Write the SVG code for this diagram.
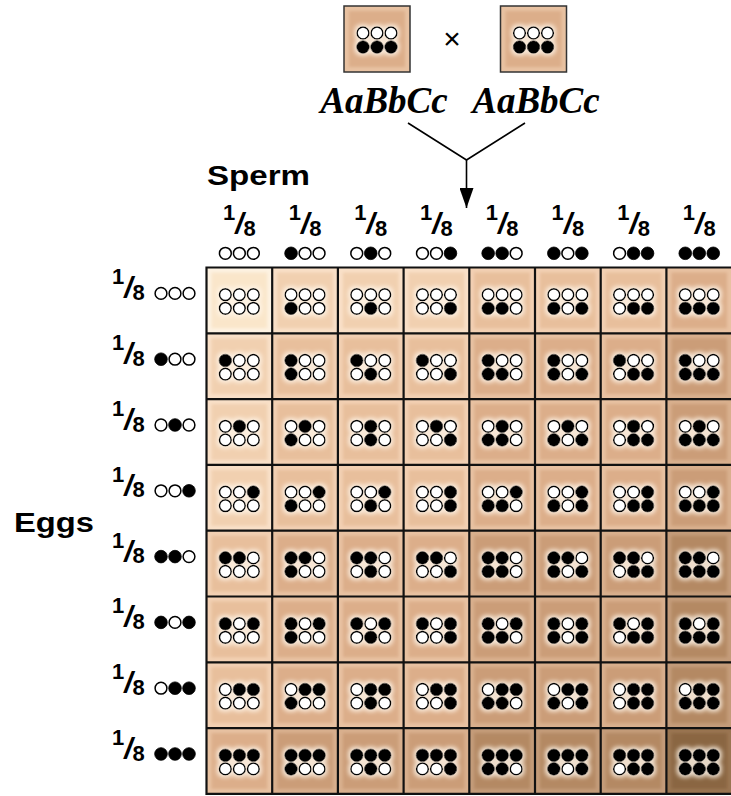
<svg xmlns="http://www.w3.org/2000/svg" xmlns:xlink="http://www.w3.org/1999/xlink" width="731" height="796" viewBox="0 0 731 796">
<style>
.w{fill:#fff;stroke:#000;stroke-width:1.5}
.k{fill:#000;stroke:#000;stroke-width:0.8}
.grid{fill:none;stroke:#111;stroke-width:2.2}
.lab{font-family:"Liberation Sans",Arial,sans-serif;font-weight:bold;fill:#000}
.fr{font-family:"Liberation Sans",Arial,sans-serif;font-weight:bold;fill:#000}
.par{font-family:"Liberation Serif","Times New Roman",serif;font-weight:bold;font-style:italic;font-size:37px;fill:#000}
.i{filter:url(#soft)}
.d{filter:url(#halo)}
.conn{fill:none;stroke:#000;stroke-width:1.6}
.o0{fill:#fdf2e2}.i0{fill:#fae6ca}
.o1{fill:#f9e0c8}.i1{fill:#f1d0b0}
.o2{fill:#f2d0b3}.i2{fill:#e8bf9c}
.o3{fill:#e8c2a2}.i3{fill:#dcae8a}
.o4{fill:#d9b08e}.i4{fill:#cb9d78}
.o5{fill:#c49c7a}.i5{fill:#b48964}
.o6{fill:#9a7552}.i6{fill:#8a6642}
</style>
<defs>
<filter id="soft" x="-10%" y="-10%" width="120%" height="120%"><feGaussianBlur stdDeviation="1.6"/></filter>
<filter id="halo" x="-40%" y="-60%" width="180%" height="220%">
<feMorphology in="SourceAlpha" operator="dilate" radius="1.5" result="d"/>
<feGaussianBlur in="d" stdDeviation="2" result="b"/>
<feFlood flood-color="#fff6ea" flood-opacity="0.8"/>
<feComposite in2="b" operator="in" result="g"/>
<feMerge><feMergeNode in="g"/><feMergeNode in="SourceGraphic"/></feMerge>
</filter>
<circle id="w" r="5.9" class="w"/>
<circle id="k" r="6.3" class="k"/>
<g id="g0"><use href="#w" x="-14"/><use href="#w"/><use href="#w" x="14"/></g>
<g id="g1"><use href="#k" x="-14"/><use href="#w"/><use href="#w" x="14"/></g>
<g id="g2"><use href="#w" x="-14"/><use href="#k"/><use href="#w" x="14"/></g>
<g id="g3"><use href="#w" x="-14"/><use href="#w"/><use href="#k" x="14"/></g>
<g id="g4"><use href="#k" x="-14"/><use href="#k"/><use href="#w" x="14"/></g>
<g id="g5"><use href="#k" x="-14"/><use href="#w"/><use href="#k" x="14"/></g>
<g id="g6"><use href="#w" x="-14"/><use href="#k"/><use href="#k" x="14"/></g>
<g id="g7"><use href="#k" x="-14"/><use href="#k"/><use href="#k" x="14"/></g>
<marker id="ah" viewBox="0 0 20 14" refX="20" refY="7" markerWidth="20" markerHeight="14" markerUnits="userSpaceOnUse" orient="auto"><path d="M0,0 L20,7 L0,14 Z" fill="#000"/></marker>
</defs>
<rect width="731" height="796" fill="#fff"/>

<!-- parents -->
<g id="parent-left" transform="translate(344,6)"><rect class="o3" width="66" height="66" stroke="#333" stroke-width="1.5"/><rect class="i i3" x="5" y="5" width="56" height="56"/><g class="d"><use href="#g0" x="33" y="27"/><use href="#g7" x="33" y="41"/></g></g>
<g id="parent-right" transform="translate(500.5,6)"><rect class="o3" width="66" height="66" stroke="#333" stroke-width="1.5"/><rect class="i i3" x="5" y="5" width="56" height="56"/><g class="d"><use href="#g0" x="33" y="27"/><use href="#g7" x="33" y="41"/></g></g>
<text x="452" y="49" font-family="Liberation Sans, Arial, sans-serif" font-size="30" text-anchor="middle" fill="#000">×</text>
<text class="par" x="384" y="113" text-anchor="middle">AaBbCc</text>
<text class="par" x="536" y="113" text-anchor="middle">AaBbCc</text>

<g id="connectors">
<path class="conn" d="M408,123 L466.5,160 L525,123"/>
<path class="conn" d="M466.5,160 L466.5,208" marker-end="url(#ah)"/>
</g>

<text class="lab" x="207" y="185" font-size="28" textLength="103" lengthAdjust="spacingAndGlyphs">Sperm</text>
<text class="lab" x="14" y="532" font-size="28" textLength="80" lengthAdjust="spacingAndGlyphs">Eggs</text>

<!-- sperm header -->
<g id="sperm-labels">
<text class="fr" x="239.35" y="220" text-anchor="middle"><tspan font-size="22">1</tspan><tspan font-size="30" font-style="italic" dy="14">/</tspan><tspan font-size="22" dy="2">8</tspan></text>
<text class="fr" x="305.05" y="220" text-anchor="middle"><tspan font-size="22">1</tspan><tspan font-size="30" font-style="italic" dy="14">/</tspan><tspan font-size="22" dy="2">8</tspan></text>
<text class="fr" x="370.75" y="220" text-anchor="middle"><tspan font-size="22">1</tspan><tspan font-size="30" font-style="italic" dy="14">/</tspan><tspan font-size="22" dy="2">8</tspan></text>
<text class="fr" x="436.45" y="220" text-anchor="middle"><tspan font-size="22">1</tspan><tspan font-size="30" font-style="italic" dy="14">/</tspan><tspan font-size="22" dy="2">8</tspan></text>
<text class="fr" x="502.15" y="220" text-anchor="middle"><tspan font-size="22">1</tspan><tspan font-size="30" font-style="italic" dy="14">/</tspan><tspan font-size="22" dy="2">8</tspan></text>
<text class="fr" x="567.85" y="220" text-anchor="middle"><tspan font-size="22">1</tspan><tspan font-size="30" font-style="italic" dy="14">/</tspan><tspan font-size="22" dy="2">8</tspan></text>
<text class="fr" x="633.55" y="220" text-anchor="middle"><tspan font-size="22">1</tspan><tspan font-size="30" font-style="italic" dy="14">/</tspan><tspan font-size="22" dy="2">8</tspan></text>
<text class="fr" x="699.25" y="220" text-anchor="middle"><tspan font-size="22">1</tspan><tspan font-size="30" font-style="italic" dy="14">/</tspan><tspan font-size="22" dy="2">8</tspan></text>
<use href="#g0" x="239.35" y="253.3"/>
<use href="#g1" x="305.05" y="253.3"/>
<use href="#g2" x="370.75" y="253.3"/>
<use href="#g3" x="436.45" y="253.3"/>
<use href="#g4" x="502.15" y="253.3"/>
<use href="#g5" x="567.85" y="253.3"/>
<use href="#g6" x="633.55" y="253.3"/>
<use href="#g7" x="699.25" y="253.3"/>
</g>

<!-- egg labels -->
<g id="egg-labels">
<text class="fr" x="112" y="284.4"><tspan font-size="22">1</tspan><tspan font-size="30" font-style="italic" dy="14">/</tspan><tspan font-size="22" dy="1.5">8</tspan></text>
<text class="fr" x="112" y="350.2"><tspan font-size="22">1</tspan><tspan font-size="30" font-style="italic" dy="14">/</tspan><tspan font-size="22" dy="1.5">8</tspan></text>
<text class="fr" x="112" y="416.0"><tspan font-size="22">1</tspan><tspan font-size="30" font-style="italic" dy="14">/</tspan><tspan font-size="22" dy="1.5">8</tspan></text>
<text class="fr" x="112" y="481.8"><tspan font-size="22">1</tspan><tspan font-size="30" font-style="italic" dy="14">/</tspan><tspan font-size="22" dy="1.5">8</tspan></text>
<text class="fr" x="112" y="547.6"><tspan font-size="22">1</tspan><tspan font-size="30" font-style="italic" dy="14">/</tspan><tspan font-size="22" dy="1.5">8</tspan></text>
<text class="fr" x="112" y="613.4"><tspan font-size="22">1</tspan><tspan font-size="30" font-style="italic" dy="14">/</tspan><tspan font-size="22" dy="1.5">8</tspan></text>
<text class="fr" x="112" y="679.2"><tspan font-size="22">1</tspan><tspan font-size="30" font-style="italic" dy="14">/</tspan><tspan font-size="22" dy="1.5">8</tspan></text>
<text class="fr" x="112" y="745.0"><tspan font-size="22">1</tspan><tspan font-size="30" font-style="italic" dy="14">/</tspan><tspan font-size="22" dy="1.5">8</tspan></text>
<use href="#g0" x="175" y="293.4"/>
<use href="#g1" x="175" y="359.2"/>
<use href="#g2" x="175" y="425.0"/>
<use href="#g3" x="175" y="490.8"/>
<use href="#g4" x="175" y="556.6"/>
<use href="#g5" x="175" y="622.4"/>
<use href="#g6" x="175" y="688.2"/>
<use href="#g7" x="175" y="754.0"/>
</g>

<!-- row 1 -->
<g id="c-1-1" transform="translate(206.5,267.5)"><rect class="o0" width="65.7" height="65.8"/><rect class="i i0" x="5" y="5" width="55.7" height="55.8"/><g class="d"><use href="#g0" x="32.85" y="27.2"/><use href="#g0" x="32.85" y="40.8"/></g></g>
<g id="c-1-2" transform="translate(272.2,267.5)"><rect class="o1" width="65.7" height="65.8"/><rect class="i i1" x="5" y="5" width="55.7" height="55.8"/><g class="d"><use href="#g0" x="32.85" y="27.2"/><use href="#g1" x="32.85" y="40.8"/></g></g>
<g id="c-1-3" transform="translate(337.9,267.5)"><rect class="o1" width="65.7" height="65.8"/><rect class="i i1" x="5" y="5" width="55.7" height="55.8"/><g class="d"><use href="#g0" x="32.85" y="27.2"/><use href="#g2" x="32.85" y="40.8"/></g></g>
<g id="c-1-4" transform="translate(403.6,267.5)"><rect class="o1" width="65.7" height="65.8"/><rect class="i i1" x="5" y="5" width="55.7" height="55.8"/><g class="d"><use href="#g0" x="32.85" y="27.2"/><use href="#g3" x="32.85" y="40.8"/></g></g>
<g id="c-1-5" transform="translate(469.3,267.5)"><rect class="o2" width="65.7" height="65.8"/><rect class="i i2" x="5" y="5" width="55.7" height="55.8"/><g class="d"><use href="#g0" x="32.85" y="27.2"/><use href="#g4" x="32.85" y="40.8"/></g></g>
<g id="c-1-6" transform="translate(535,267.5)"><rect class="o2" width="65.7" height="65.8"/><rect class="i i2" x="5" y="5" width="55.7" height="55.8"/><g class="d"><use href="#g0" x="32.85" y="27.2"/><use href="#g5" x="32.85" y="40.8"/></g></g>
<g id="c-1-7" transform="translate(600.7,267.5)"><rect class="o2" width="65.7" height="65.8"/><rect class="i i2" x="5" y="5" width="55.7" height="55.8"/><g class="d"><use href="#g0" x="32.85" y="27.2"/><use href="#g6" x="32.85" y="40.8"/></g></g>
<g id="c-1-8" transform="translate(666.4,267.5)"><rect class="o3" width="65.7" height="65.8"/><rect class="i i3" x="5" y="5" width="55.7" height="55.8"/><g class="d"><use href="#g0" x="32.85" y="27.2"/><use href="#g7" x="32.85" y="40.8"/></g></g>
<!-- row 2 -->
<g id="c-2-1" transform="translate(206.5,333.3)"><rect class="o1" width="65.7" height="65.8"/><rect class="i i1" x="5" y="5" width="55.7" height="55.8"/><g class="d"><use href="#g1" x="32.85" y="27.2"/><use href="#g0" x="32.85" y="40.8"/></g></g>
<g id="c-2-2" transform="translate(272.2,333.3)"><rect class="o2" width="65.7" height="65.8"/><rect class="i i2" x="5" y="5" width="55.7" height="55.8"/><g class="d"><use href="#g1" x="32.85" y="27.2"/><use href="#g1" x="32.85" y="40.8"/></g></g>
<g id="c-2-3" transform="translate(337.9,333.3)"><rect class="o2" width="65.7" height="65.8"/><rect class="i i2" x="5" y="5" width="55.7" height="55.8"/><g class="d"><use href="#g1" x="32.85" y="27.2"/><use href="#g2" x="32.85" y="40.8"/></g></g>
<g id="c-2-4" transform="translate(403.6,333.3)"><rect class="o2" width="65.7" height="65.8"/><rect class="i i2" x="5" y="5" width="55.7" height="55.8"/><g class="d"><use href="#g1" x="32.85" y="27.2"/><use href="#g3" x="32.85" y="40.8"/></g></g>
<g id="c-2-5" transform="translate(469.3,333.3)"><rect class="o3" width="65.7" height="65.8"/><rect class="i i3" x="5" y="5" width="55.7" height="55.8"/><g class="d"><use href="#g1" x="32.85" y="27.2"/><use href="#g4" x="32.85" y="40.8"/></g></g>
<g id="c-2-6" transform="translate(535,333.3)"><rect class="o3" width="65.7" height="65.8"/><rect class="i i3" x="5" y="5" width="55.7" height="55.8"/><g class="d"><use href="#g1" x="32.85" y="27.2"/><use href="#g5" x="32.85" y="40.8"/></g></g>
<g id="c-2-7" transform="translate(600.7,333.3)"><rect class="o3" width="65.7" height="65.8"/><rect class="i i3" x="5" y="5" width="55.7" height="55.8"/><g class="d"><use href="#g1" x="32.85" y="27.2"/><use href="#g6" x="32.85" y="40.8"/></g></g>
<g id="c-2-8" transform="translate(666.4,333.3)"><rect class="o4" width="65.7" height="65.8"/><rect class="i i4" x="5" y="5" width="55.7" height="55.8"/><g class="d"><use href="#g1" x="32.85" y="27.2"/><use href="#g7" x="32.85" y="40.8"/></g></g>
<!-- row 3 -->
<g id="c-3-1" transform="translate(206.5,399.1)"><rect class="o1" width="65.7" height="65.8"/><rect class="i i1" x="5" y="5" width="55.7" height="55.8"/><g class="d"><use href="#g2" x="32.85" y="27.2"/><use href="#g0" x="32.85" y="40.8"/></g></g>
<g id="c-3-2" transform="translate(272.2,399.1)"><rect class="o2" width="65.7" height="65.8"/><rect class="i i2" x="5" y="5" width="55.7" height="55.8"/><g class="d"><use href="#g2" x="32.85" y="27.2"/><use href="#g1" x="32.85" y="40.8"/></g></g>
<g id="c-3-3" transform="translate(337.9,399.1)"><rect class="o2" width="65.7" height="65.8"/><rect class="i i2" x="5" y="5" width="55.7" height="55.8"/><g class="d"><use href="#g2" x="32.85" y="27.2"/><use href="#g2" x="32.85" y="40.8"/></g></g>
<g id="c-3-4" transform="translate(403.6,399.1)"><rect class="o2" width="65.7" height="65.8"/><rect class="i i2" x="5" y="5" width="55.7" height="55.8"/><g class="d"><use href="#g2" x="32.85" y="27.2"/><use href="#g3" x="32.85" y="40.8"/></g></g>
<g id="c-3-5" transform="translate(469.3,399.1)"><rect class="o3" width="65.7" height="65.8"/><rect class="i i3" x="5" y="5" width="55.7" height="55.8"/><g class="d"><use href="#g2" x="32.85" y="27.2"/><use href="#g4" x="32.85" y="40.8"/></g></g>
<g id="c-3-6" transform="translate(535,399.1)"><rect class="o3" width="65.7" height="65.8"/><rect class="i i3" x="5" y="5" width="55.7" height="55.8"/><g class="d"><use href="#g2" x="32.85" y="27.2"/><use href="#g5" x="32.85" y="40.8"/></g></g>
<g id="c-3-7" transform="translate(600.7,399.1)"><rect class="o3" width="65.7" height="65.8"/><rect class="i i3" x="5" y="5" width="55.7" height="55.8"/><g class="d"><use href="#g2" x="32.85" y="27.2"/><use href="#g6" x="32.85" y="40.8"/></g></g>
<g id="c-3-8" transform="translate(666.4,399.1)"><rect class="o4" width="65.7" height="65.8"/><rect class="i i4" x="5" y="5" width="55.7" height="55.8"/><g class="d"><use href="#g2" x="32.85" y="27.2"/><use href="#g7" x="32.85" y="40.8"/></g></g>
<!-- row 4 -->
<g id="c-4-1" transform="translate(206.5,464.9)"><rect class="o1" width="65.7" height="65.8"/><rect class="i i1" x="5" y="5" width="55.7" height="55.8"/><g class="d"><use href="#g3" x="32.85" y="27.2"/><use href="#g0" x="32.85" y="40.8"/></g></g>
<g id="c-4-2" transform="translate(272.2,464.9)"><rect class="o2" width="65.7" height="65.8"/><rect class="i i2" x="5" y="5" width="55.7" height="55.8"/><g class="d"><use href="#g3" x="32.85" y="27.2"/><use href="#g1" x="32.85" y="40.8"/></g></g>
<g id="c-4-3" transform="translate(337.9,464.9)"><rect class="o2" width="65.7" height="65.8"/><rect class="i i2" x="5" y="5" width="55.7" height="55.8"/><g class="d"><use href="#g3" x="32.85" y="27.2"/><use href="#g2" x="32.85" y="40.8"/></g></g>
<g id="c-4-4" transform="translate(403.6,464.9)"><rect class="o2" width="65.7" height="65.8"/><rect class="i i2" x="5" y="5" width="55.7" height="55.8"/><g class="d"><use href="#g3" x="32.85" y="27.2"/><use href="#g3" x="32.85" y="40.8"/></g></g>
<g id="c-4-5" transform="translate(469.3,464.9)"><rect class="o3" width="65.7" height="65.8"/><rect class="i i3" x="5" y="5" width="55.7" height="55.8"/><g class="d"><use href="#g3" x="32.85" y="27.2"/><use href="#g4" x="32.85" y="40.8"/></g></g>
<g id="c-4-6" transform="translate(535,464.9)"><rect class="o3" width="65.7" height="65.8"/><rect class="i i3" x="5" y="5" width="55.7" height="55.8"/><g class="d"><use href="#g3" x="32.85" y="27.2"/><use href="#g5" x="32.85" y="40.8"/></g></g>
<g id="c-4-7" transform="translate(600.7,464.9)"><rect class="o3" width="65.7" height="65.8"/><rect class="i i3" x="5" y="5" width="55.7" height="55.8"/><g class="d"><use href="#g3" x="32.85" y="27.2"/><use href="#g6" x="32.85" y="40.8"/></g></g>
<g id="c-4-8" transform="translate(666.4,464.9)"><rect class="o4" width="65.7" height="65.8"/><rect class="i i4" x="5" y="5" width="55.7" height="55.8"/><g class="d"><use href="#g3" x="32.85" y="27.2"/><use href="#g7" x="32.85" y="40.8"/></g></g>
<!-- row 5 -->
<g id="c-5-1" transform="translate(206.5,530.7)"><rect class="o2" width="65.7" height="65.8"/><rect class="i i2" x="5" y="5" width="55.7" height="55.8"/><g class="d"><use href="#g4" x="32.85" y="27.2"/><use href="#g0" x="32.85" y="40.8"/></g></g>
<g id="c-5-2" transform="translate(272.2,530.7)"><rect class="o3" width="65.7" height="65.8"/><rect class="i i3" x="5" y="5" width="55.7" height="55.8"/><g class="d"><use href="#g4" x="32.85" y="27.2"/><use href="#g1" x="32.85" y="40.8"/></g></g>
<g id="c-5-3" transform="translate(337.9,530.7)"><rect class="o3" width="65.7" height="65.8"/><rect class="i i3" x="5" y="5" width="55.7" height="55.8"/><g class="d"><use href="#g4" x="32.85" y="27.2"/><use href="#g2" x="32.85" y="40.8"/></g></g>
<g id="c-5-4" transform="translate(403.6,530.7)"><rect class="o3" width="65.7" height="65.8"/><rect class="i i3" x="5" y="5" width="55.7" height="55.8"/><g class="d"><use href="#g4" x="32.85" y="27.2"/><use href="#g3" x="32.85" y="40.8"/></g></g>
<g id="c-5-5" transform="translate(469.3,530.7)"><rect class="o4" width="65.7" height="65.8"/><rect class="i i4" x="5" y="5" width="55.7" height="55.8"/><g class="d"><use href="#g4" x="32.85" y="27.2"/><use href="#g4" x="32.85" y="40.8"/></g></g>
<g id="c-5-6" transform="translate(535,530.7)"><rect class="o4" width="65.7" height="65.8"/><rect class="i i4" x="5" y="5" width="55.7" height="55.8"/><g class="d"><use href="#g4" x="32.85" y="27.2"/><use href="#g5" x="32.85" y="40.8"/></g></g>
<g id="c-5-7" transform="translate(600.7,530.7)"><rect class="o4" width="65.7" height="65.8"/><rect class="i i4" x="5" y="5" width="55.7" height="55.8"/><g class="d"><use href="#g4" x="32.85" y="27.2"/><use href="#g6" x="32.85" y="40.8"/></g></g>
<g id="c-5-8" transform="translate(666.4,530.7)"><rect class="o5" width="65.7" height="65.8"/><rect class="i i5" x="5" y="5" width="55.7" height="55.8"/><g class="d"><use href="#g4" x="32.85" y="27.2"/><use href="#g7" x="32.85" y="40.8"/></g></g>
<!-- row 6 -->
<g id="c-6-1" transform="translate(206.5,596.5)"><rect class="o2" width="65.7" height="65.8"/><rect class="i i2" x="5" y="5" width="55.7" height="55.8"/><g class="d"><use href="#g5" x="32.85" y="27.2"/><use href="#g0" x="32.85" y="40.8"/></g></g>
<g id="c-6-2" transform="translate(272.2,596.5)"><rect class="o3" width="65.7" height="65.8"/><rect class="i i3" x="5" y="5" width="55.7" height="55.8"/><g class="d"><use href="#g5" x="32.85" y="27.2"/><use href="#g1" x="32.85" y="40.8"/></g></g>
<g id="c-6-3" transform="translate(337.9,596.5)"><rect class="o3" width="65.7" height="65.8"/><rect class="i i3" x="5" y="5" width="55.7" height="55.8"/><g class="d"><use href="#g5" x="32.85" y="27.2"/><use href="#g2" x="32.85" y="40.8"/></g></g>
<g id="c-6-4" transform="translate(403.6,596.5)"><rect class="o3" width="65.7" height="65.8"/><rect class="i i3" x="5" y="5" width="55.7" height="55.8"/><g class="d"><use href="#g5" x="32.85" y="27.2"/><use href="#g3" x="32.85" y="40.8"/></g></g>
<g id="c-6-5" transform="translate(469.3,596.5)"><rect class="o4" width="65.7" height="65.8"/><rect class="i i4" x="5" y="5" width="55.7" height="55.8"/><g class="d"><use href="#g5" x="32.85" y="27.2"/><use href="#g4" x="32.85" y="40.8"/></g></g>
<g id="c-6-6" transform="translate(535,596.5)"><rect class="o4" width="65.7" height="65.8"/><rect class="i i4" x="5" y="5" width="55.7" height="55.8"/><g class="d"><use href="#g5" x="32.85" y="27.2"/><use href="#g5" x="32.85" y="40.8"/></g></g>
<g id="c-6-7" transform="translate(600.7,596.5)"><rect class="o4" width="65.7" height="65.8"/><rect class="i i4" x="5" y="5" width="55.7" height="55.8"/><g class="d"><use href="#g5" x="32.85" y="27.2"/><use href="#g6" x="32.85" y="40.8"/></g></g>
<g id="c-6-8" transform="translate(666.4,596.5)"><rect class="o5" width="65.7" height="65.8"/><rect class="i i5" x="5" y="5" width="55.7" height="55.8"/><g class="d"><use href="#g5" x="32.85" y="27.2"/><use href="#g7" x="32.85" y="40.8"/></g></g>
<!-- row 7 -->
<g id="c-7-1" transform="translate(206.5,662.3)"><rect class="o2" width="65.7" height="65.8"/><rect class="i i2" x="5" y="5" width="55.7" height="55.8"/><g class="d"><use href="#g6" x="32.85" y="27.2"/><use href="#g0" x="32.85" y="40.8"/></g></g>
<g id="c-7-2" transform="translate(272.2,662.3)"><rect class="o3" width="65.7" height="65.8"/><rect class="i i3" x="5" y="5" width="55.7" height="55.8"/><g class="d"><use href="#g6" x="32.85" y="27.2"/><use href="#g1" x="32.85" y="40.8"/></g></g>
<g id="c-7-3" transform="translate(337.9,662.3)"><rect class="o3" width="65.7" height="65.8"/><rect class="i i3" x="5" y="5" width="55.7" height="55.8"/><g class="d"><use href="#g6" x="32.85" y="27.2"/><use href="#g2" x="32.85" y="40.8"/></g></g>
<g id="c-7-4" transform="translate(403.6,662.3)"><rect class="o3" width="65.7" height="65.8"/><rect class="i i3" x="5" y="5" width="55.7" height="55.8"/><g class="d"><use href="#g6" x="32.85" y="27.2"/><use href="#g3" x="32.85" y="40.8"/></g></g>
<g id="c-7-5" transform="translate(469.3,662.3)"><rect class="o4" width="65.7" height="65.8"/><rect class="i i4" x="5" y="5" width="55.7" height="55.8"/><g class="d"><use href="#g6" x="32.85" y="27.2"/><use href="#g4" x="32.85" y="40.8"/></g></g>
<g id="c-7-6" transform="translate(535,662.3)"><rect class="o4" width="65.7" height="65.8"/><rect class="i i4" x="5" y="5" width="55.7" height="55.8"/><g class="d"><use href="#g6" x="32.85" y="27.2"/><use href="#g5" x="32.85" y="40.8"/></g></g>
<g id="c-7-7" transform="translate(600.7,662.3)"><rect class="o4" width="65.7" height="65.8"/><rect class="i i4" x="5" y="5" width="55.7" height="55.8"/><g class="d"><use href="#g6" x="32.85" y="27.2"/><use href="#g6" x="32.85" y="40.8"/></g></g>
<g id="c-7-8" transform="translate(666.4,662.3)"><rect class="o5" width="65.7" height="65.8"/><rect class="i i5" x="5" y="5" width="55.7" height="55.8"/><g class="d"><use href="#g6" x="32.85" y="27.2"/><use href="#g7" x="32.85" y="40.8"/></g></g>
<!-- row 8 -->
<g id="c-8-1" transform="translate(206.5,728.1)"><rect class="o3" width="65.7" height="65.8"/><rect class="i i3" x="5" y="5" width="55.7" height="55.8"/><g class="d"><use href="#g7" x="32.85" y="27.2"/><use href="#g0" x="32.85" y="40.8"/></g></g>
<g id="c-8-2" transform="translate(272.2,728.1)"><rect class="o4" width="65.7" height="65.8"/><rect class="i i4" x="5" y="5" width="55.7" height="55.8"/><g class="d"><use href="#g7" x="32.85" y="27.2"/><use href="#g1" x="32.85" y="40.8"/></g></g>
<g id="c-8-3" transform="translate(337.9,728.1)"><rect class="o4" width="65.7" height="65.8"/><rect class="i i4" x="5" y="5" width="55.7" height="55.8"/><g class="d"><use href="#g7" x="32.85" y="27.2"/><use href="#g2" x="32.85" y="40.8"/></g></g>
<g id="c-8-4" transform="translate(403.6,728.1)"><rect class="o4" width="65.7" height="65.8"/><rect class="i i4" x="5" y="5" width="55.7" height="55.8"/><g class="d"><use href="#g7" x="32.85" y="27.2"/><use href="#g3" x="32.85" y="40.8"/></g></g>
<g id="c-8-5" transform="translate(469.3,728.1)"><rect class="o5" width="65.7" height="65.8"/><rect class="i i5" x="5" y="5" width="55.7" height="55.8"/><g class="d"><use href="#g7" x="32.85" y="27.2"/><use href="#g4" x="32.85" y="40.8"/></g></g>
<g id="c-8-6" transform="translate(535,728.1)"><rect class="o5" width="65.7" height="65.8"/><rect class="i i5" x="5" y="5" width="55.7" height="55.8"/><g class="d"><use href="#g7" x="32.85" y="27.2"/><use href="#g5" x="32.85" y="40.8"/></g></g>
<g id="c-8-7" transform="translate(600.7,728.1)"><rect class="o5" width="65.7" height="65.8"/><rect class="i i5" x="5" y="5" width="55.7" height="55.8"/><g class="d"><use href="#g7" x="32.85" y="27.2"/><use href="#g6" x="32.85" y="40.8"/></g></g>
<g id="c-8-8" transform="translate(666.4,728.1)"><rect class="o6" width="65.7" height="65.8"/><rect class="i i6" x="5" y="5" width="55.7" height="55.8"/><g class="d"><use href="#g7" x="32.85" y="27.2"/><use href="#g7" x="32.85" y="40.8"/></g></g>

<g id="grid">
<path class="grid" d="M206.5,267.5V793.9M272.2,267.5V793.9M337.9,267.5V793.9M403.6,267.5V793.9M469.3,267.5V793.9M535,267.5V793.9M600.7,267.5V793.9M666.4,267.5V793.9M205.4,267.5H731M205.4,333.3H731M205.4,399.1H731M205.4,464.9H731M205.4,530.7H731M205.4,596.5H731M205.4,662.3H731M205.4,728.1H731M205.4,793.9H731"/>
</g>
</svg>
